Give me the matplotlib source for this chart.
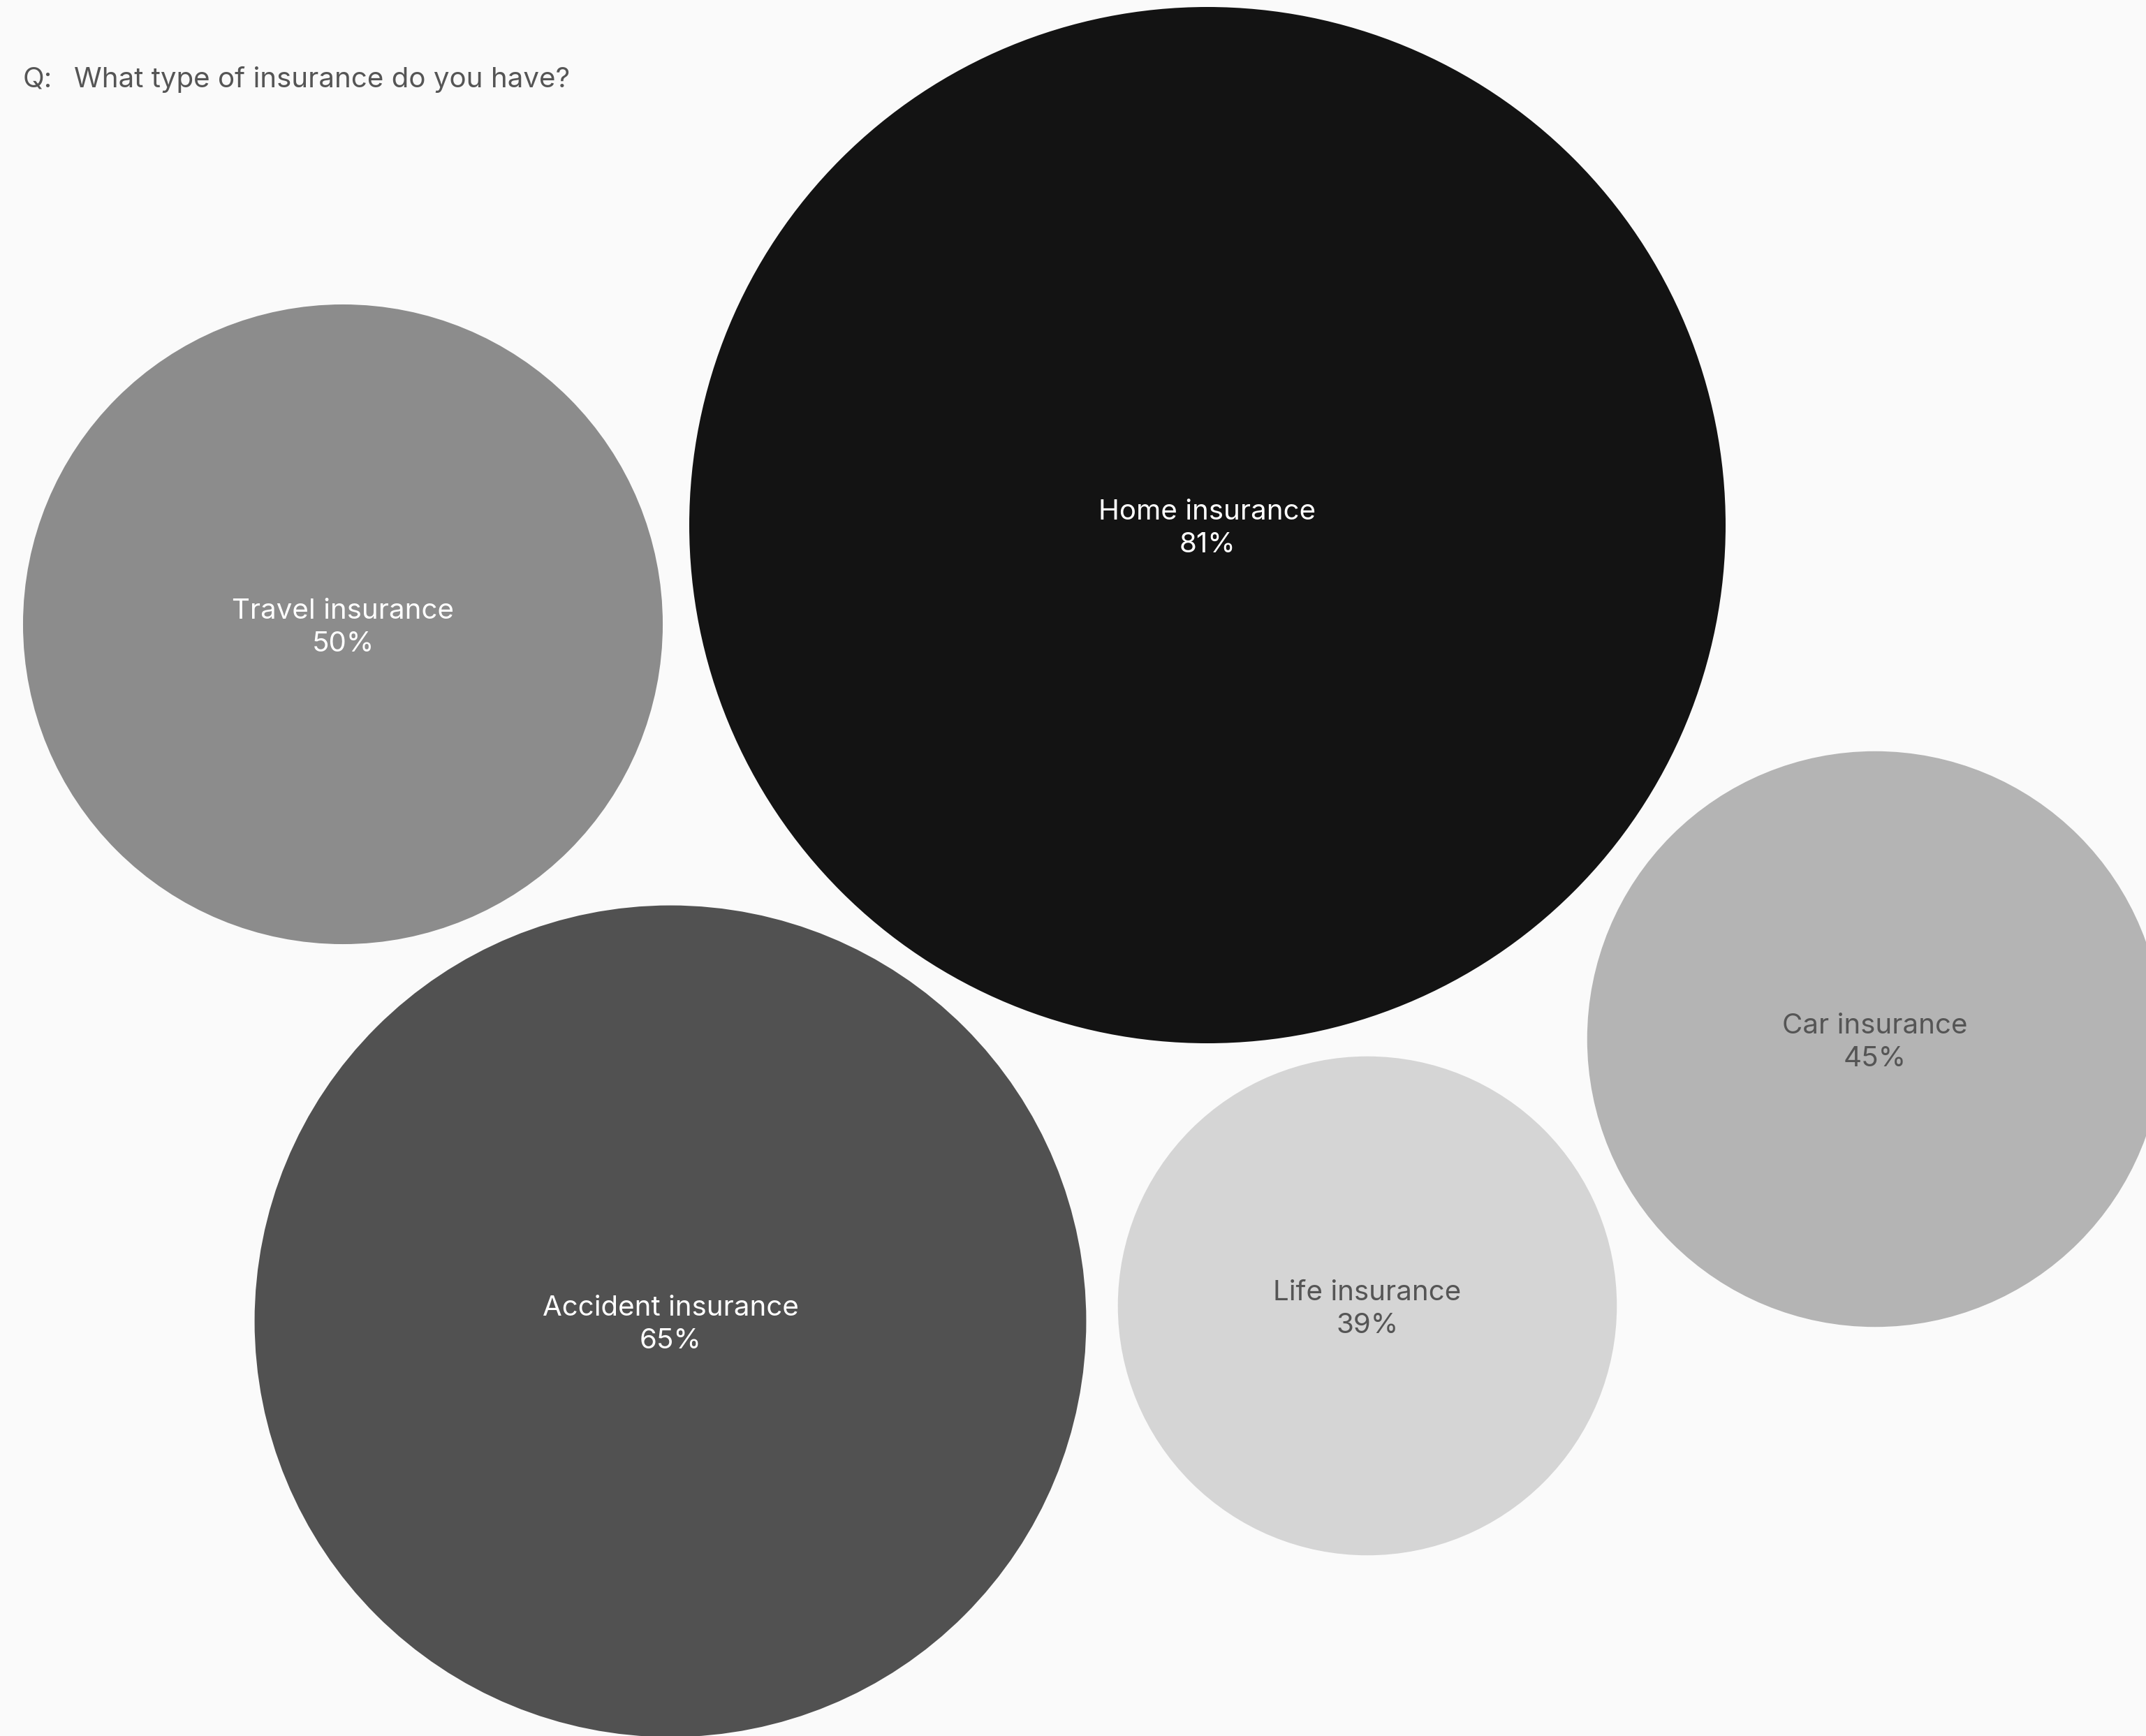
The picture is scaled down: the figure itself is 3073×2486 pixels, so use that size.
import matplotlib
matplotlib.use("Agg")
import matplotlib.pyplot as plt
from matplotlib.patches import Circle

# ---- data ----
categories = ["Home insurance", "Travel insurance", "Accident insurance", "Life insurance", "Car insurance"]
values = [81, 50, 65, 39, 45]  # percent
fill_colors = ["#131313", "#8c8c8c", "#515151", "#d5d5d5", "#b4b4b4"]
text_colors = ["#ffffff", "#ffffff", "#ffffff", "#555555", "#555555"]

# ---- layout (pixel coordinates of bubble centres) ----
centers_x = [1729, 491, 960, 1958, 2685]
centers_y = [752, 894, 1892, 1870, 1488]
radius_per_unit = 742 / 81.0

W, H = 3073, 2486
BG = "#fafafa"
plt.rcParams['font.family'] = ['Inter', 'DejaVu Sans']

fig = plt.figure(figsize=(W / 100, H / 100), dpi=100, facecolor=BG)
ax = fig.add_axes([0, 0, 1, 1])
ax.set_facecolor(BG)
ax.set_xlim(0, W)
ax.set_ylim(H, 0)
ax.set_aspect('equal')
ax.axis('off')

for name, v, fc, tc, cx, cy in zip(categories, values, fill_colors, text_colors, centers_x, centers_y):
    ax.add_patch(Circle((cx, cy), v * radius_per_unit, facecolor=fc, edgecolor='none'))
    ax.text(cx, cy + 5, f"{name}\n{v}%", ha='center', va='center', multialignment='center',
            color=tc, fontsize=29, linespacing=1.36)

ax.text(33, 114, "Q:", ha='left', va='center', color="#555555", fontsize=29)
ax.text(106, 114, "What type of insurance do you have?", ha='left', va='center',
        color="#555555", fontsize=29)

fig.savefig("out.png", dpi=100, facecolor=BG)
